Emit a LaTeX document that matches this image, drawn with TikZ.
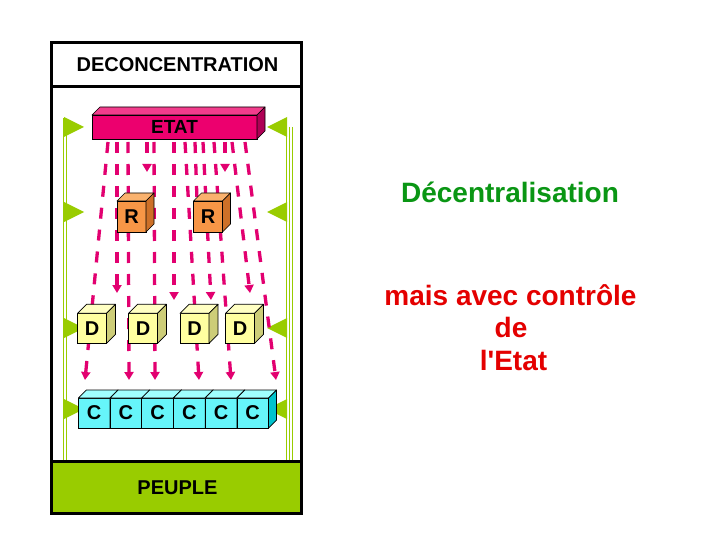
\documentclass[tikz,border=0pt]{standalone}
\usepackage{fontspec}
\setmainfont{Liberation Sans}
\usetikzlibrary{arrows.meta}
\definecolor{dpk}{RGB}{226,0,112}
\definecolor{pkfront}{RGB}{236,0,110}
\definecolor{pktop}{RGB}{242,60,140}
\definecolor{pkside}{RGB}{175,0,85}
\definecolor{orfront}{RGB}{247,150,70}
\definecolor{ortop}{RGB}{250,178,110}
\definecolor{orside}{RGB}{205,112,40}
\definecolor{ylfront}{RGB}{255,255,160}
\definecolor{yltop}{RGB}{255,255,195}
\definecolor{ylside}{RGB}{205,205,120}
\definecolor{cyfront}{RGB}{102,245,250}
\definecolor{cytop}{RGB}{160,255,255}
\definecolor{cyside}{RGB}{0,195,205}
\definecolor{grn}{RGB}{153,204,0}
\definecolor{dgreen}{RGB}{10,150,20}
\definecolor{dred}{RGB}{228,0,0}
\newcommand\cubefaces[4]{%
  \filldraw[draw=black,line width=0.7pt,line join=round,fill=#3]
    (#1.north west) -- ++(#2,-#2) -- ([shift={(#2,-#2)}]#1.north east) -- (#1.north east) -- cycle;
  \filldraw[draw=black,line width=0.7pt,line join=round,fill=#4]
    (#1.north east) -- ++(#2,-#2) -- ([shift={(#2,-#2)}]#1.south east) -- (#1.south east) -- cycle;}
\begin{document}
\begin{tikzpicture}[x=1pt,y=-1pt,
  lbl/.style={font=\fontsize{20}{24}\selectfont\bfseries},
  face/.style={lbl,rectangle,draw=black,line width=0.7pt,inner sep=0pt,outer sep=0pt},
  rbox/.style={face,fill=orfront,minimum width=29pt,minimum height=31pt},
  dbox/.style={face,fill=ylfront,minimum width=29pt,minimum height=30pt},
  cbox/.style={face,fill=cyfront,minimum width=31.7pt,minimum height=30pt},
  ebox/.style={face,fill=pkfront,minimum width=165pt,minimum height=24pt,font=\fontsize{19}{23}\selectfont\bfseries},
  dl/.style={draw=dpk,line width=3.3pt,dash pattern=on 11pt off 11pt},
  dla/.style={dl,-{Triangle[width=9pt,length=8pt]}},
  pole/.style={draw=grn,line width=1.1pt},
  flag/.style={fill=grn},
  side/.style={anchor=base,font=\fontsize{28}{32}\selectfont\bfseries}]
\useasboundingbox (0,0) rectangle (720,540);
\fill[white] (0,0) rectangle (720,540);
% green band
\fill[grn] (51.5,461) rectangle (301.5,513);
% poles
\draw[pole] (63.5,118) -- (63.5,461);
\draw[pole] (66.5,124) -- (66.5,461);
\draw[pole] (286.5,127) -- (286.5,461);
\draw[pole] (289.5,127) -- (289.5,461);
\draw[pole] (292.5,127) -- (292.5,461);
% flags
\foreach \i/\y in {1/127,2/212,3/328,4/409}{
  \coordinate (fl\i) at (64,\y);
  \fill[flag] (fl\i) ++(0,-10) -- ++(20,10) -- ++(-20,10) -- cycle;
  \coordinate (fr\i) at (287,\y);
  \fill[flag] (fr\i) ++(0,-10) -- ++(-20,10) -- ++(20,10) -- cycle;
}
% dashed lines
\foreach \i/\xa/\xb/\yb in {1/108/85/380,2/117/117/293,3/128/129/380,4/147/147/172,
   5/154/155/380,6/174/174/300,7/185/199/380,9/203/211/300,10/214/231/380,
   11/225/225/172,12/232/250/293,13/245/276/380}{
  \coordinate (s\i) at (\xa,142);
  \coordinate (e\i) at (\xb,\yb);
  \draw[dla] (s\i) -- (e\i);
}
\coordinate (s8) at (195,142);
\coordinate (e8) at (197,200);
\draw[dl] (s8) -- (e8);
% ETAT
\node[ebox] (etat) at (174.5,127) {ETAT};
\cubefaces{etat}{8}{pktop}{pkside}
% R
\node[rbox] (r1) at (131.5,216.5) {R};
\cubefaces{r1}{8}{ortop}{orside}
\node[rbox] (r2) at (208,216.5) {R};
\cubefaces{r2}{8}{ortop}{orside}
% D
\node[dbox] (d1) at (92,328.3) {D};
\cubefaces{d1}{9}{yltop}{ylside}
\node[dbox] (d2) at (143,328.3) {D};
\cubefaces{d2}{9}{yltop}{ylside}
\node[dbox] (d3) at (194.5,328.3) {D};
\cubefaces{d3}{9}{yltop}{ylside}
\node[dbox] (d4) at (240,328.3) {D};
\cubefaces{d4}{9}{yltop}{ylside}
% C
\node[cbox] (c1) at (94.2,413) {C};
\cubefaces{c1}{8}{cytop}{cyside}
\node[cbox] (c2) at (125.9,413) {C};
\cubefaces{c2}{8}{cytop}{cyside}
\node[cbox] (c3) at (157.6,413) {C};
\cubefaces{c3}{8}{cytop}{cyside}
\node[cbox] (c4) at (189.3,413) {C};
\cubefaces{c4}{8}{cytop}{cyside}
\node[cbox] (c5) at (221,413) {C};
\cubefaces{c5}{8}{cytop}{cyside}
\node[cbox] (c6) at (252.7,413) {C};
\cubefaces{c6}{8}{cytop}{cyside}
% frame
\draw[line width=3pt] (51.5,42.5) rectangle (301.5,513);
\draw[line width=3pt] (51.5,87) -- (301.5,87);
\draw[line width=3pt] (51.5,461) -- (301.5,461);
\node[lbl,anchor=base] (hdr) at (177.5,72) {DECONCENTRATION};
\node[lbl,anchor=base] (peuple) at (177.5,494) {PEUPLE};
% right texts
\node[side,text=dgreen] (dec) at (510,203) {Décentralisation};
\node[side,text=dred] (m1) at (510.5,305) {mais avec contrôle};
\node[side,text=dred] (m2) at (511,337) {de};
\node[side,text=dred] (m3) at (513.5,370) {l\textquotesingle{}Etat};
\end{tikzpicture}
\end{document}
